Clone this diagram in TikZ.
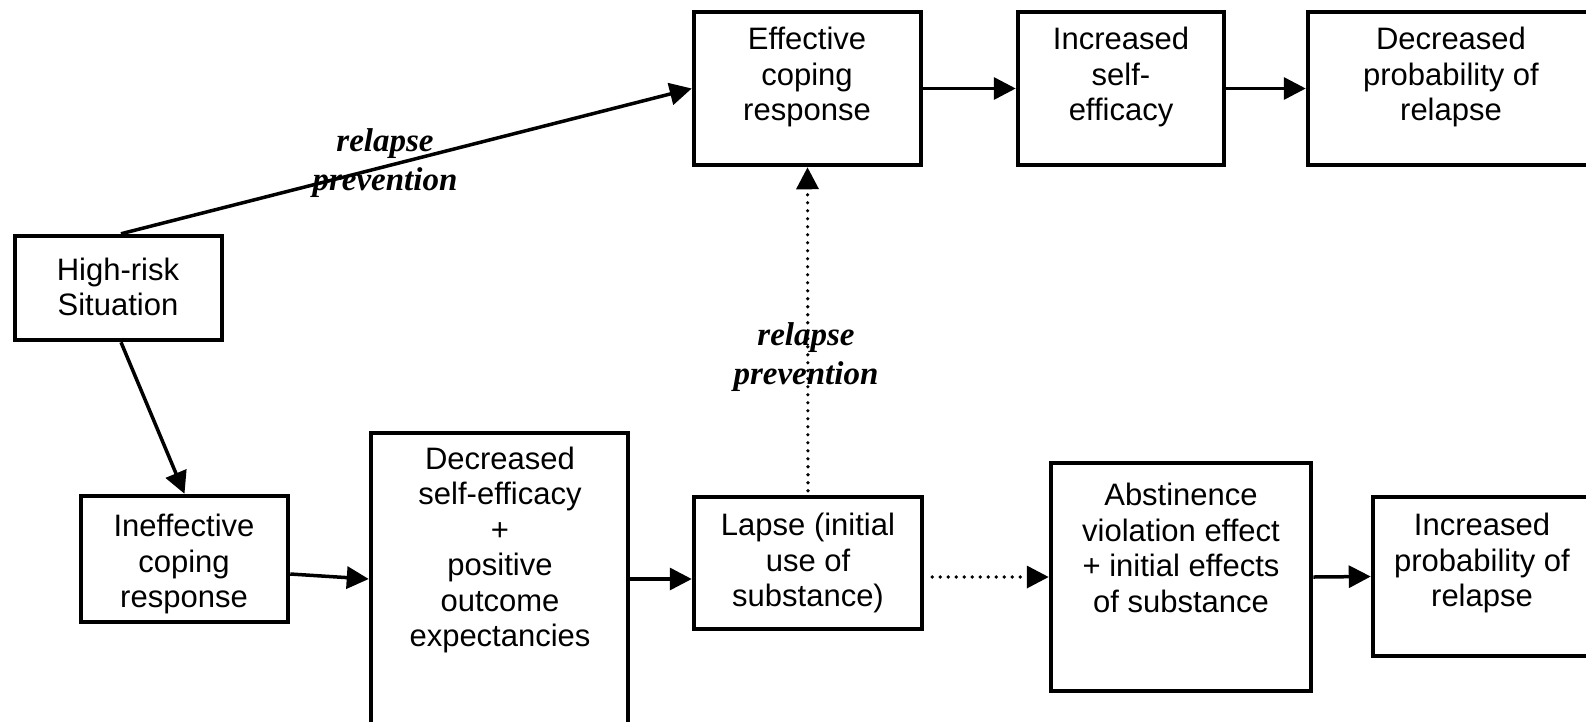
\documentclass[tikz,border=0pt]{standalone}
\usepackage{fontspec}
\setmainfont{Liberation Sans}
\newfontfamily\lblfont{Liberation Serif}
\usetikzlibrary{arrows.meta,calc}
\begin{document}
\begin{tikzpicture}[x=1pt,y=-1pt,
  box/.style={draw,line width=4.5pt,inner sep=0pt,fill=white},
  txt/.style={align=center,inner sep=0pt,font=\fontsize{31}{35.5}\selectfont},
  lbl/.style={align=center,inner sep=0pt,font=\lblfont\bfseries\itshape\fontsize{33}{39}\selectfont},
  arr/.style={line width=3.5pt,-{Triangle[length=22pt,width=22pt]}},
  dotarr/.style={line width=3.6pt,line cap=round,dash pattern=on 0pt off 8pt,-{Triangle[length=22pt,width=22pt]}}]
\useasboundingbox (0,0) rectangle (1586,721);
\clip (0,0) rectangle (1586,721);
% boxes
\node[box,minimum width=227pt,minimum height=153pt] (eff) at (807.5,88.5) {};
\node[box,minimum width=206pt,minimum height=153pt] (ise) at (1121,88.5) {};
\node[box,minimum width=312pt,minimum height=153pt] (dpr) at (1464,88.5) {};
\node[box,minimum width=207pt,minimum height=104pt] (hr) at (118.5,288) {};
\node[box,minimum width=207pt,minimum height=126pt] (ine) at (184.5,559) {};
\node[box,minimum width=257pt,minimum height=327pt] (dse) at (499.5,596.5) {};
\node[box,minimum width=228pt,minimum height=132pt] (lap) at (808,563) {};
\node[box,minimum width=260pt,minimum height=228pt] (ave) at (1181,577) {};
\node[box,minimum width=247pt,minimum height=159pt] (ipr) at (1496.5,576.5) {};
% texts
\node[txt] (effT) at (807,77) {Effective\\coping\\response};
\node[txt] (iseT) at (1121,77) {Increased\\self-\\efficacy};
\node[txt] (dprT) at (1451,77) {Decreased\\probability of\\relapse};
\node[txt] (hrT) at (118,287) {High-risk\\Situation};
\node[txt] (ineT) at (184,564) {Ineffective\\coping\\response};
\node[txt] (dseT) at (500,550) {Decreased\\self-efficacy\\+\\positive\\outcome\\expectancies};
\node[txt] (lapT) at (808,563) {Lapse (initial\\use of\\substance)};
\node[txt] (aveT) at (1181,548) {Abstinence\\violation effect\\+ initial effects\\of substance};
\node[txt] (iprT) at (1482,563) {Increased\\probability of\\relapse};
% connectors
\draw[arr] ($(hr.north)+(2.5,0)$) -- (eff.west);
\draw[arr] ($(hr.south)+(2.5,0)$) -- (ine.north);
\draw[arr] (eff.east) -- (ise.west);
\draw[arr] (ise.east) -- (dpr.west);
\draw[arr] (ine.east |- 0,574) -- (dse.west |- 0,579);
\draw[arr] (dse.east |- 0,579) -- (lap.west |- 0,579);
\draw[dotarr,shorten <=8pt] (lap.east |- 0,577) -- (ave.west);
\draw[arr] (ave.east) -- (ipr.west);
\draw[dotarr,shorten <=4pt] (lap.north) -- (eff.south);
% labels
\node[lbl] (rp1) at (385,163) {relapse\\prevention};
\node[lbl] (rp2) at (806,357) {relapse\\prevention};
\end{tikzpicture}
\end{document}
